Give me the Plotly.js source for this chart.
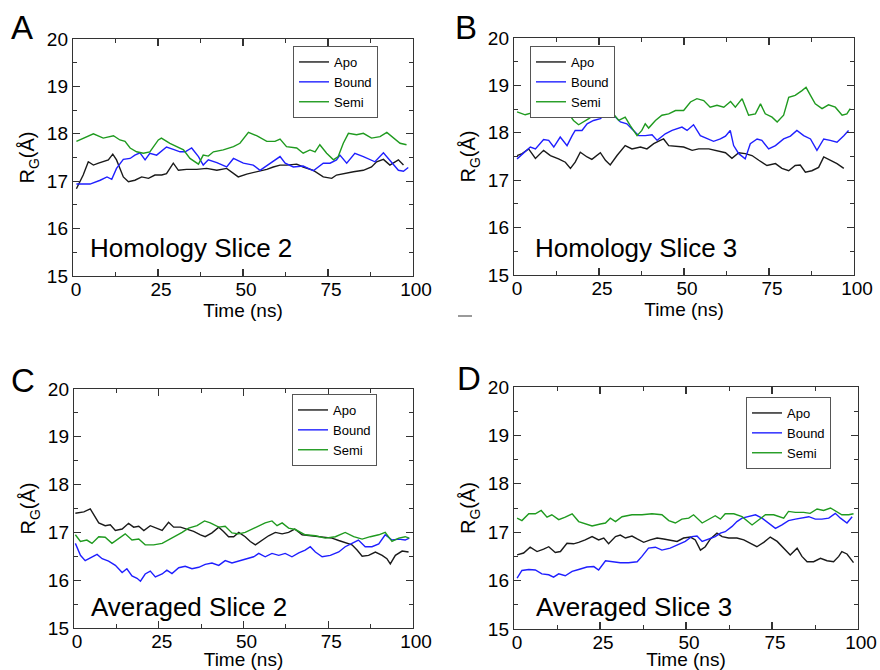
<!DOCTYPE html>
<html>
<head>
<meta charset="utf-8">
<script src="https://cdn.plot.ly/plotly-3.0.1.min.js"></script>
<style>html,body{margin:0;padding:0;background:#fff;}#chart{width:880px;height:670px;}</style>
</head>
<body>
<div id="chart"></div>
<script>
// ---------- DATA ----------
const seriesNames = ["Apo", "Bound", "Semi"];
const panelLetters = ["A", "B", "C", "D"];
const panelTexts = ["Homology Slice 2", "Homology Slice 3", "Averaged Slice 2", "Averaged Slice 3"];
const xTickVals = [0, 25, 50, 75, 100];
const yTickVals = [15, 16, 17, 18, 19, 20];

// Panel A (Homology Slice 2)
const aApoT = [1,3,4.5,6,7.5,8.9,10.4,11.7,12.8,14.8,16.3,18.2,20.2,22.2,24.1,26.1,27.5,29.5,31,33.4,36.4,39.3,42.3,45.2,47.2,48.6,51.1,54,57,58.9,60.9,62.8,65.8,67.7,70.7,73.6,76.1,77.5,79.5,82.5,85.4,87.8,89.3,91.3,93.2,95.7,97.2];
const aApoY = [16.84,17.13,17.41,17.34,17.38,17.41,17.45,17.57,17.45,17.09,16.99,17.02,17.09,17.06,17.13,17.13,17.16,17.38,17.23,17.25,17.25,17.27,17.23,17.27,17.16,17.09,17.15,17.2,17.25,17.3,17.34,17.34,17.36,17.3,17.23,17.09,17.06,17.13,17.16,17.2,17.23,17.3,17.41,17.46,17.34,17.45,17.34];
const aBoundT = [1,5,8,10,11.4,12.8,14.8,16.8,18.2,19.7,21.2,22.6,24.6,27.5,29.5,31.5,33,34.9,36.9,38.3,39.8,42.3,45.2,47.2,50.1,53,55,57.9,60.9,62.4,64.8,67.7,70.7,73.6,75.6,77.5,78.5,80.5,82.9,85.4,87.4,88.8,91.3,93.2,95.7,97.2,98.6];
const aBoundY = [16.94,16.94,17.02,17.09,17.04,17.27,17.46,17.48,17.55,17.6,17.45,17.59,17.55,17.72,17.67,17.62,17.62,17.7,17.52,17.34,17.45,17.39,17.3,17.48,17.38,17.34,17.23,17.38,17.52,17.38,17.3,17.32,17.22,17.38,17.38,17.45,17.55,17.38,17.59,17.52,17.45,17.41,17.6,17.45,17.23,17.21,17.29];
const aSemiT = [1,3,6,8.9,11.9,13.8,15.3,16.8,18.7,20.7,22.6,25.1,26,28.5,30.5,32.5,34.4,36.9,38.3,39.8,41.3,44.2,47.2,49.1,51.6,54,57,59.4,60.9,62.8,65.8,67.7,69.7,71.2,72.6,74.6,76.6,78,79.5,81,83.4,85.4,87.8,90.3,92.3,94.2,96.2,98.1];
const aSemiY = [17.84,17.91,18.0,17.91,17.96,17.87,17.84,17.7,17.62,17.59,17.62,17.87,17.91,17.8,17.73,17.66,17.48,17.36,17.55,17.53,17.62,17.66,17.73,17.8,18.03,17.96,17.84,17.84,17.89,17.73,17.7,17.59,17.66,17.62,17.77,17.59,17.45,17.52,17.8,18.01,17.98,18.01,17.91,17.94,18.03,17.91,17.8,17.77];

// Panel B (Homology Slice 3)
const bApoT = [0.9,2.4,4.3,6.3,8.7,10.7,13.1,15.1,16.6,18,19.5,21.5,22.9,25.4,26.9,28.3,30.3,32.7,34.7,37.2,39.1,41.1,43,44,45.5,47.5,49.9,52.4,54.3,57.3,60.2,62.2,64.1,66.1,68,70,72,74.4,76.9,78.8,80.8,82.7,84.2,85.7,87.6,89.6,91.1,93,95,97];
const bApoY = [17.52,17.56,17.66,17.46,17.63,17.52,17.45,17.38,17.25,17.38,17.59,17.49,17.44,17.58,17.42,17.32,17.52,17.73,17.66,17.7,17.66,17.77,17.84,17.87,17.73,17.72,17.7,17.63,17.66,17.66,17.61,17.58,17.46,17.58,17.56,17.52,17.42,17.31,17.35,17.25,17.2,17.31,17.32,17.17,17.2,17.27,17.49,17.42,17.35,17.25];
const bBoundT = [0.9,2.8,4.8,6.3,8.7,10.2,11.7,13.6,15.6,17.1,18,20,21.5,23.4,25.4,27.8,29.3,31.3,33.2,34.7,36.7,38.6,40.6,42.1,44.5,46.5,49.4,50.9,52.8,54.8,56.8,58.7,60.7,62.2,63.6,64.6,66.1,68,69.5,71.5,72.9,74.9,76.9,79.3,81.3,83.2,85.2,87.2,89.1,91.1,93,95,97,98.4];
const bBoundY = [17.45,17.58,17.7,17.66,17.86,17.84,17.7,17.91,17.73,17.94,18.05,18.05,18.19,18.26,18.3,18.45,18.37,18.23,18.19,18.08,17.94,17.94,17.96,17.84,17.98,18.05,18.12,18.05,18.17,17.94,17.87,17.82,17.87,17.93,18.05,17.73,17.56,17.45,17.77,17.87,17.84,17.66,17.73,17.87,17.93,18.05,17.94,17.87,17.63,17.87,17.84,17.8,17.94,18.05];
const bSemiT = [0.9,3.3,6.3,9.2,12.2,14.1,16.1,17.5,19,20.5,22,23.9,25.4,27.4,28.8,30.8,32.7,34.2,36.2,37.6,38.6,39.6,41.6,43.5,45.5,47.5,49.9,51.9,53.8,55.8,57.7,59.7,61.7,63.7,65.1,67.1,69,71,72.5,73.9,75.9,77.4,79.3,80.8,82.7,84.7,85.9,87.2,88.6,90.6,92.5,94.5,96.5,97.9,98.9];
const bSemiY = [18.44,18.38,18.44,18.4,18.44,18.47,18.4,18.26,18.17,18.23,18.3,18.4,18.37,18.54,18.44,18.26,18.33,18.15,17.94,18.05,18.19,18.1,18.26,18.37,18.4,18.47,18.47,18.65,18.72,18.68,18.54,18.58,18.54,18.66,18.54,18.72,18.37,18.4,18.61,18.4,18.33,18.23,18.37,18.75,18.79,18.89,18.96,18.79,18.61,18.51,18.59,18.54,18.37,18.4,18.51];

// Panel C (Averaged Slice 2)
const cApoT = [0.4,2.9,4.8,5.8,7.3,9.2,10.7,12.2,14.2,16.1,17.6,19.1,20.6,22.5,24.5,26,27.9,29.4,31.4,33.3,35.3,37.3,38.7,40.7,42.7,44.1,45.6,47.1,48.6,50.5,52,53.5,55.5,57.4,59.4,61.4,63.3,65.1,67.3,70.2,73.2,76.1,78.1,80,82,83.5,85,86.9,88.9,90.9,92.3,93.3,94.8,96.8,98.7];
const cApoY = [17.4,17.43,17.49,17.38,17.2,17.14,17.16,17.04,17.07,17.19,17.11,17.13,17.04,17.14,17.09,17.04,17.21,17.11,17.11,17.06,17.02,16.95,16.91,16.99,17.11,17.02,16.91,16.91,17.0,16.91,16.81,16.74,16.84,16.93,17.0,16.97,17.0,17.07,16.95,16.93,16.91,16.88,16.83,16.79,16.74,16.63,16.5,16.52,16.59,16.52,16.45,16.34,16.52,16.61,16.59];
const cBoundT = [0.4,1.9,3.3,5.3,6.8,8.3,10.2,12.2,14.2,15.6,17.1,18.6,19.6,21,22.5,24,26,27.4,28.9,30.9,32.8,34.8,36.8,38.7,40.7,42.7,44.6,46.6,48.6,50.5,53,54.5,56.4,58.4,60.4,62.3,64.3,66.3,68.2,69.7,71.2,73.2,75.6,78.1,80,82,83.9,85.9,87.9,89.9,91.8,93.8,95.8,97.7,98.9];
const cBoundY = [16.77,16.52,16.41,16.49,16.54,16.45,16.4,16.31,16.16,16.24,16.09,16.04,15.98,16.13,16.19,16.07,16.13,16.21,16.14,16.26,16.29,16.24,16.27,16.33,16.36,16.31,16.41,16.36,16.4,16.45,16.49,16.56,16.49,16.56,16.52,16.56,16.49,16.57,16.63,16.7,16.59,16.49,16.52,16.59,16.7,16.77,16.84,16.7,16.7,16.76,16.95,16.84,16.86,16.84,16.88];
const cSemiT = [0.4,1.9,3.8,5.3,7.3,9.2,11.2,13.2,15.1,17.1,19.1,21,23.5,26,28.9,31.9,33.8,36.3,38.5,40.2,42.7,44.6,46.6,48.6,50.5,52.5,54.5,56.4,58.4,59.9,61.4,63.3,65.3,68.2,71.2,74.1,77.1,80,82.5,85,87.4,89.9,91.8,93.8,95.8,97.7,98.9];
const cSemiY = [16.95,16.81,16.84,16.77,16.91,16.9,16.77,16.88,16.97,16.84,16.86,16.74,16.74,16.77,16.88,17.0,17.09,17.14,17.24,17.2,17.11,17.13,16.99,16.97,17.0,17.07,17.14,17.2,17.24,17.14,17.2,17.09,17.06,16.95,16.93,16.88,16.91,17.0,16.91,16.86,16.91,16.95,17.0,16.81,16.88,16.91,16.88];

// Panel D (Averaged Slice 3)
const dApoT = [0.9,2.8,4.7,6.7,8.6,10.1,12,13.5,15.4,17.3,18.8,20.7,22.7,24.6,26.1,27.5,29.5,30.9,32.4,34.3,35.8,37.7,39.6,41.6,43.5,45.4,47.4,49.3,51.3,52.7,54.2,55.6,57.1,59,60.5,62.4,64.8,66.8,68.7,70.6,72.6,74.5,76.5,78.4,80.3,82.3,83.7,85.2,87.1,89.1,91,92.9,94.4,95.3,96.8,98.7];
const dApoY = [16.53,16.57,16.69,16.6,16.65,16.7,16.58,16.6,16.77,16.76,16.79,16.84,16.91,16.84,16.88,16.76,16.91,16.94,16.88,16.92,16.86,16.79,16.84,16.88,16.86,16.84,16.81,16.88,16.9,16.84,16.63,16.7,16.86,16.98,16.91,16.88,16.88,16.84,16.77,16.7,16.79,16.9,16.81,16.67,16.53,16.67,16.5,16.39,16.39,16.46,16.41,16.39,16.5,16.6,16.55,16.37];
const dBoundT = [0.9,2.3,4.3,6.2,8.1,10.1,11.5,13,14.9,16.9,18.8,21.2,23.2,24.6,26.6,28.5,30.9,33.3,35.8,37.2,39.1,41.1,43,45.4,47.9,49.8,51.7,53.2,54.7,56.6,58.5,60,61.4,63.4,64.8,66.3,68.2,70.2,72.1,74,76,77.9,79.8,81.8,83.7,85.7,87.6,89.5,91.5,93.4,94.9,96.8,98.3];
const dBoundY = [16.05,16.21,16.23,16.22,16.14,16.12,16.07,16.14,16.1,16.19,16.23,16.28,16.29,16.22,16.41,16.39,16.37,16.37,16.39,16.5,16.67,16.69,16.63,16.67,16.74,16.81,16.91,16.92,16.81,16.86,16.91,16.98,17.01,17.12,17.22,17.29,17.32,17.36,17.29,17.19,17.08,17.15,17.24,17.27,17.29,17.32,17.27,17.27,17.29,17.39,17.29,17.19,17.32];
const dSemiT = [0.9,2.3,4.3,6.2,7.9,9.6,11,13,14.9,16.9,18.8,20.7,22.7,25.1,26.6,28,29.5,31.4,34.3,37.2,40.1,43,45,46.9,48.8,50.8,52.2,54.7,56.6,58.5,60,61.4,63.9,66.3,69.2,71.1,73.1,75.5,76.9,78.4,79.8,81.8,84.2,86.1,88.1,90,92,93.9,95.3,97.3,98.7];
const dSemiY = [17.29,17.24,17.38,17.38,17.45,17.31,17.36,17.26,17.31,17.38,17.22,17.17,17.13,17.17,17.19,17.29,17.22,17.32,17.36,17.36,17.38,17.36,17.24,17.19,17.27,17.29,17.36,17.19,17.27,17.34,17.27,17.38,17.38,17.32,17.15,17.26,17.36,17.36,17.32,17.29,17.43,17.41,17.41,17.39,17.48,17.45,17.5,17.41,17.36,17.36,17.38];

// ---------- BUILD ----------
const colors = ["#1a1a1a", "#1f1fff", "#1f9a1f"];
const panelData = [
  [[aApoT, aApoY], [aBoundT, aBoundY], [aSemiT, aSemiY]],
  [[bApoT, bApoY], [bBoundT, bBoundY], [bSemiT, bSemiY]],
  [[cApoT, cApoY], [cBoundT, cBoundY], [cSemiT, cSemiY]],
  [[dApoT, dApoY], [dBoundT, dBoundY], [dSemiT, dSemiY]]
];
const W = 880, H = 670;
// plot boxes in pixels: [left, right, top, bottom]
const boxes = [[73, 413, 39, 276], [514, 854, 38, 275], [74, 413, 389, 628], [514, 858, 387, 629]];
const legendPos = [[293, 46], [530, 46], [292, 394], [746, 397]];
const letterPos = [[9, 27], [453, 27], [9, 380], [455, 378]];
const textPos = [[88, 248], [533, 248], [89, 607], [534, 607]];
const FONT = "Liberation Sans, Arial, Helvetica, sans-serif";

const traces = [];
const layout = {
  width: W, height: H, autosize: false,
  margin: {l: 0, r: 0, t: 0, b: 0},
  paper_bgcolor: "#fff", plot_bgcolor: "#fff",
  font: {family: FONT, color: "#000"},
  showlegend: true,
  annotations: [],
  shapes: [{type: "line", xref: "paper", yref: "paper", x0: 458 / W, x1: 472 / W, y0: 1 - 316 / H, y1: 1 - 316 / H, line: {color: "#9a9a9a", width: 2}}]
};

panelData.forEach((panel, p) => {
  const sfx = p === 0 ? "" : String(p + 1);
  const legName = p === 0 ? "legend" : "legend" + (p + 1);
  panel.forEach((s, i) => {
    traces.push({
      type: "scatter", mode: "lines",
      x: s[0], y: s[1], name: seriesNames[i],
      xaxis: "x" + sfx, yaxis: "y" + sfx,
      legend: legName,
      line: {color: colors[i], width: 1.4}
    });
  });
  const b = boxes[p];
  const axCommon = {
    showline: true, linecolor: "#333", linewidth: 1.2, mirror: "ticks",
    ticks: "inside", ticklen: 7, tickwidth: 1.2, tickcolor: "#333",
    showgrid: false, zeroline: false, fixedrange: true,
    tickfont: {family: FONT, size: 19, color: "#000"}
  };
  layout["xaxis" + sfx] = Object.assign({}, axCommon, {
    domain: [b[0] / W, b[1] / W], anchor: "y" + sfx,
    range: [0, 100], tickmode: "array", tickvals: xTickVals,
    ticklabelstandoff: -4, ticklabelshift: 3,
    minor: {ticks: "inside", ticklen: 4, dtick: 12.5, tick0: 0, tickcolor: "#333", tickwidth: 1},
    title: {text: "Time (ns)", font: {family: FONT, size: 19, color: "#000"}, standoff: 2}
  });
  layout["yaxis" + sfx] = Object.assign({}, axCommon, {
    domain: [1 - b[3] / H, 1 - b[2] / H], anchor: "x" + sfx,
    range: [15, 20], tickmode: "array", tickvals: yTickVals,
    minor: {ticks: "inside", ticklen: 4, dtick: 0.5, tick0: 15, tickcolor: "#333", tickwidth: 1},
    title: {text: "R<sub>G</sub>(Å)", font: {family: FONT, size: 20, color: "#000"}, standoff: 6}
  });
  layout[legName] = {
    x: legendPos[p][0] / W, y: 1 - legendPos[p][1] / H,
    xanchor: "left", yanchor: "top",
    bgcolor: "#fff", bordercolor: "#555", borderwidth: 1,
    font: {family: FONT, size: 13, color: "#000"},
    tracegroupgap: 0, itemwidth: 30
  };
  layout.annotations.push({
    xref: "paper", yref: "paper", x: letterPos[p][0] / W, y: 1 - letterPos[p][1] / H,
    xanchor: "left", yanchor: "middle", showarrow: false,
    text: panelLetters[p], font: {family: FONT, size: 33, color: "#000"}
  });
  layout.annotations.push({
    xref: "paper", yref: "paper", x: textPos[p][0] / W, y: 1 - textPos[p][1] / H,
    xanchor: "left", yanchor: "middle", showarrow: false,
    text: panelTexts[p], font: {family: FONT, size: 26, color: "#000"}
  });
});

Plotly.newPlot("chart", traces, layout, {displayModeBar: false, staticPlot: true});
</script>
</body>
</html>
